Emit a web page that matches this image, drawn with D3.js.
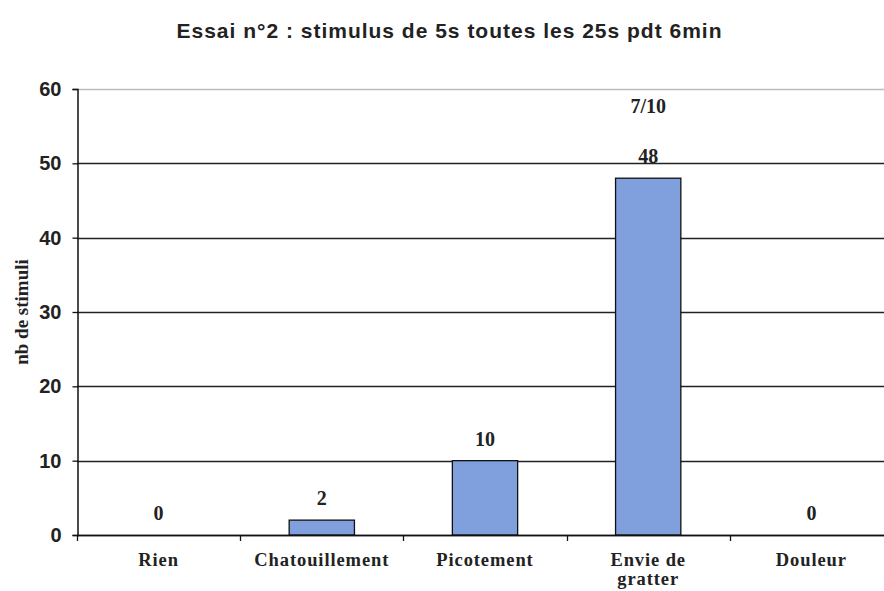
<!DOCTYPE html>
<head>
  <meta charset="UTF-8">
  <script src="https://d3js.org/d3.v7.min.js"></script>
  <title>Essai n°2</title>
  <style>
    body { margin: 0; background: #fff; }
  </style>
</head>
<body>
  <svg id="chart"></svg>
    <script>

        var width = 884;
        var height = 591;

        var categories = ["Rien", "Chatouillement", "Picotement", "Envie de gratter", "Douleur"];
        var catLines = [["Rien"], ["Chatouillement"], ["Picotement"], ["Envie de", "gratter"], ["Douleur"]];
        var values = [0, 2, 10, 48, 0];
        var yTicks = [0, 10, 20, 30, 40, 50, 60];
        var extraNote = {category: "Envie de gratter", text: "7/10", value: 56.8};

        var margin = {top: 89, right: -9, bottom: 56, left: 77};

        var svg = d3.select("#chart")
            .attr("width", width)
            .attr("height", height);

        var x = d3.scaleBand()
            .domain(categories)
            .range([margin.left, width - margin.right])
            .paddingInner(0.6)
            .paddingOuter(0.3);

        var xEdges = d3.scaleBand()
            .domain(categories)
            .range([margin.left, width - margin.right]);

        var y = d3.scaleLinear()
            .domain([0, 60])
            .range([height - margin.bottom, margin.top]);

        var serif = "Liberation Serif, Times New Roman, serif";
        var sans = "Liberation Sans, Arial, sans-serif";

        // title
        svg.append("text")
            .attr("x", 449)
            .attr("y", 38)
            .attr("text-anchor", "middle")
            .attr("textLength", 545)
            .attr("lengthAdjust", "spacing")
            .style("font-family", sans)
            .style("font-weight", "bold")
            .style("font-size", "21px")
            .attr("fill", "#222")
            .text("Essai n°2 : stimulus de 5s toutes les 25s pdt 6min");

        // gridlines
        svg.selectAll("line.grid")
            .data(yTicks)
            .enter().append("line")
            .attr("class", "grid")
            .attr("x1", margin.left)
            .attr("x2", width)
            .attr("y1", function(d) { return Math.round(y(d)) + 0.5; })
            .attr("y2", function(d) { return Math.round(y(d)) + 0.5; })
            .attr("stroke", function(d) { return d == 60 ? "#bbb" : "#222"; })
            .attr("stroke-width", 1.3);

        // bars
        svg.selectAll("rect.bar")
            .data(values)
            .enter().append("rect")
            .attr("class", "bar")
            .attr("x", function(d, i) { return x(categories[i]); })
            .attr("width", x.bandwidth())
            .attr("y", function(d) { return y(d); })
            .attr("height", function(d) { return y(0) - y(d); })
            .attr("fill", "#809fdd")
            .attr("stroke", "#111")
            .attr("stroke-width", 1.3);

        // value labels
        svg.selectAll("text.val")
            .data(values)
            .enter().append("text")
            .attr("class", "val")
            .attr("x", function(d, i) { return x(categories[i]) + x.bandwidth() / 2; })
            .attr("y", function(d) { return y(d) - 15; })
            .attr("text-anchor", "middle")
            .style("font-family", serif)
            .style("font-weight", "bold")
            .style("font-size", "20px")
            .attr("fill", "#222")
            .text(function(d) { return d; });

        svg.append("text")
            .attr("x", x(extraNote.category) + x.bandwidth() / 2)
            .attr("y", y(extraNote.value))
            .attr("text-anchor", "middle")
            .style("font-family", serif)
            .style("font-weight", "bold")
            .style("font-size", "20px")
            .attr("fill", "#222")
            .text(extraNote.text);

        // y axis
        var yAxis = svg.append("g")
            .attr("transform", "translate(" + (margin.left + 0.5) + ",0)")
            .call(d3.axisLeft(y).tickValues(yTicks).tickSize(5).tickPadding(11));
        yAxis.select(".domain").attr("stroke", "#111").attr("stroke-width", 1.5);
        yAxis.selectAll(".tick line").attr("stroke", "#111").attr("stroke-width", 1.3);
        yAxis.selectAll(".tick text")
            .style("font-family", sans)
            .style("font-weight", "bold")
            .style("font-size", "20px")
            .attr("fill", "#222");

        // x axis baseline and ticks between categories
        svg.append("line")
            .attr("x1", margin.left)
            .attr("x2", width)
            .attr("y1", Math.round(y(0)) + 0.5)
            .attr("y2", Math.round(y(0)) + 0.5)
            .attr("stroke", "#111")
            .attr("stroke-width", 1.5);

        svg.selectAll("line.xtick")
            .data(categories)
            .enter().append("line")
            .attr("class", "xtick")
            .attr("x1", function(d) { return Math.round(xEdges(d)) + 0.5; })
            .attr("x2", function(d) { return Math.round(xEdges(d)) + 0.5; })
            .attr("y1", y(0))
            .attr("y2", y(0) + 6)
            .attr("stroke", "#111")
            .attr("stroke-width", 1.3);

        var xLabels = svg.selectAll("text.xlab")
            .data(catLines)
            .enter().append("text")
            .attr("class", "xlab")
            .attr("x", function(d, i) { return xEdges(categories[i]) + xEdges.bandwidth() / 2; })
            .attr("y", 566)
            .attr("text-anchor", "middle")
            .style("font-family", serif)
            .style("font-weight", "bold")
            .style("font-size", "18.5px")
            .style("letter-spacing", "0.9px")
            .attr("fill", "#222");

        xLabels.selectAll("tspan")
            .data(function(d) { return d; })
            .enter().append("tspan")
            .attr("x", function() { return d3.select(this.parentNode).attr("x"); })
            .attr("dy", function(d, i) { return i == 0 ? 0 : 19; })
            .text(function(d) { return d; });

        // y axis title
        svg.append("text")
            .attr("transform", "translate(28," + y(30) + ") rotate(-90)")
            .attr("text-anchor", "middle")
            .style("font-family", serif)
            .style("font-weight", "bold")
            .style("font-size", "19px")
            .attr("fill", "#222")
            .text("nb de stimuli");

    </script>
    </body>
</html>
